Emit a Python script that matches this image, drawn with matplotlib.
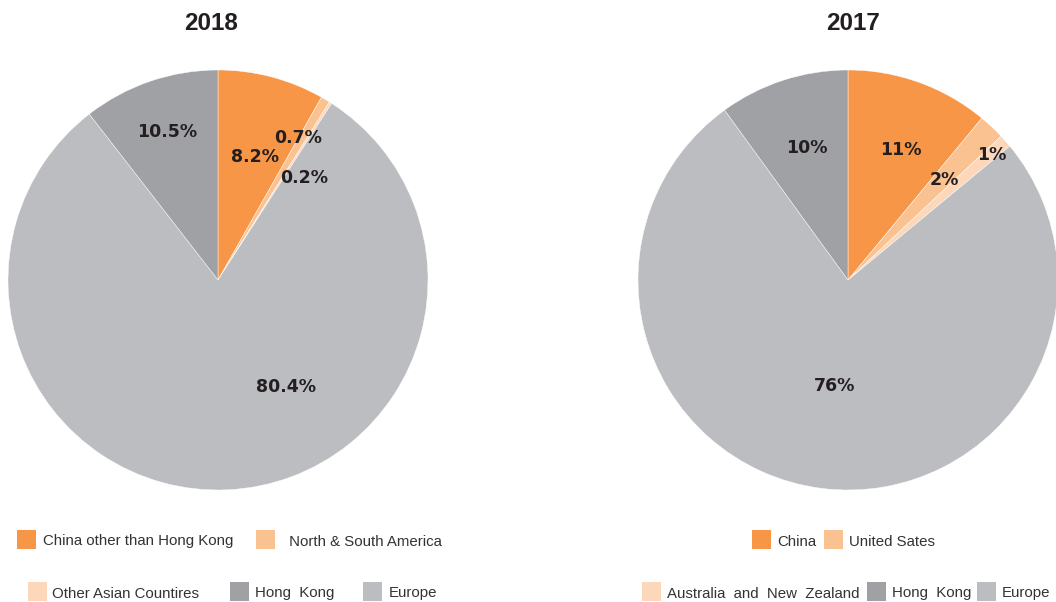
import matplotlib
matplotlib.use("Agg")
import matplotlib.pyplot as plt
from matplotlib.patches import Rectangle

# ---- data ----
labels_2018 = ["China other than Hong Kong", " North & South America", "Other Asian Countires", "Europe", "Hong  Kong"]
values_2018 = [8.2, 0.7, 0.2, 80.4, 10.5]
pct_2018 = ["8.2%", "0.7%", "0.2%", "80.4%", "10.5%"]

labels_2017 = ["China", "United Sates", "Australia  and  New  Zealand", "Europe", "Hong  Kong"]
values_2017 = [11, 2, 1, 76, 10]
pct_2017 = ["11%", "2%", "1%", "76%", "10%"]

colors = ["#F79646", "#FAC191", "#FCD7BA", "#BCBDC1", "#A0A1A5"]

# label positions (in pie radius units)
pos_2018 = [(0.176, 0.586), (0.381, 0.676), (0.41, 0.486), (0.324, -0.51), (-0.243, 0.705)]
pos_2017 = [(0.252, 0.619), (0.457, 0.476), (0.686, 0.595), (-0.062, -0.505), (-0.195, 0.629)]

W, H = 1056, 602
fig = plt.figure(figsize=(W / 100, H / 100), dpi=100)


def px_axes(cx, cy, r):
    return fig.add_axes([(cx - r) / W, (H - cy - r) / H, 2 * r / W, 2 * r / H])


def draw_pie(ax, vals, pcts, pos, title, tx):
    ax.pie(vals, colors=colors, startangle=90, counterclock=False, radius=1,
           wedgeprops=dict(edgecolor="white", linewidth=0.3))
    ax.set_xlim(-1, 1)
    ax.set_ylim(-1, 1)
    ax.set_aspect("equal")
    ax.axis("off")
    for t, (x, y) in zip(pcts, pos):
        ax.text(x, y, t, ha="center", va="center", fontsize=12.5, fontweight="bold",
                color="#231F20", family="DejaVu Sans")
    fig.text(tx / W, 1 - 23 / H, title, ha="center", va="center", fontsize=17.5,
             fontweight="bold", color="#231F20", family="Liberation Sans")


ax1 = px_axes(218, 280, 210)
draw_pie(ax1, values_2018, pct_2018, pos_2018, "2018", 211)
ax2 = px_axes(848, 280, 210)
draw_pie(ax2, values_2017, pct_2017, pos_2017, "2017", 853)


def legend_item(sx, sy, tx, color, text):
    fig.patches.append(Rectangle((sx / W, 1 - (sy + 19) / H), 19 / W, 19 / H,
                                 transform=fig.transFigure, facecolor=color,
                                 edgecolor="none", figure=fig))
    fig.text(tx / W, 1 - (sy + 11.5) / H, text, ha="left", va="center", fontsize=10.8,
             color="#333333", family="Liberation Sans")


# 2018 legend
legend_item(17, 530, 43, colors[0], labels_2018[0])
legend_item(256, 530, 289 - 4, colors[1], labels_2018[1])
legend_item(28, 582, 52, colors[2], labels_2018[2])
legend_item(230, 582, 255, colors[4], labels_2018[4])
legend_item(363, 582, 389, colors[3], labels_2018[3])

# 2017 legend
legend_item(752, 530, 777, colors[0], labels_2017[0])
legend_item(824, 530, 849, colors[1], labels_2017[1])
legend_item(642, 582, 667, colors[2], labels_2017[2])
legend_item(867, 582, 892, colors[4], labels_2017[4])
legend_item(977, 582, 1002, colors[3], labels_2017[3])

fig.savefig("out.png", dpi=100, facecolor="white")
